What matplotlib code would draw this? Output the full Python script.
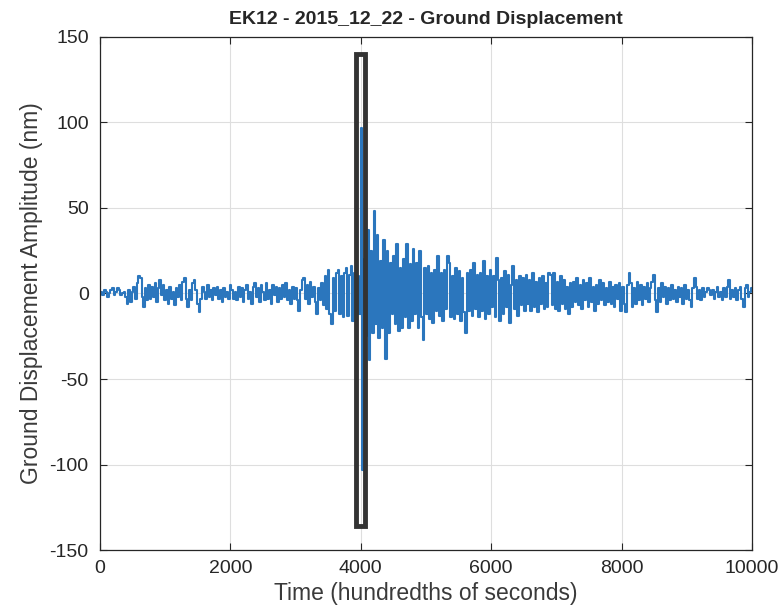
import numpy as np
import matplotlib
matplotlib.use("Agg")
import matplotlib.pyplot as plt
from matplotlib.patches import Rectangle

plt.rcParams['font.family'] = ['Liberation Sans', 'DejaVu Sans']
plt.rcParams['axes.unicode_minus'] = False

# Ground displacement trace (nm), one block per 1000 hundredths of a second
seg_0000 = [0, 1, -1, 2, 1, -2, 0, 2, 3, -1, 1, 3, 2, -1, 0, 1,
            -2, -6, 2, -5, 1, 4, -3, 6, 10, 9, -2, -8, 3, -4, 5, -3,
            4, -2, 6, -5, 3, 8, -1, 5]
seg_1000 = [-4, 2, -6, 4, -3, 1, -7, 3, -2, 5, -4, 7, 9, -3, -8, 2,
            -4, 6, 8, 2, -6, -11, -3, 4, 1, -3, 5, -2, 2, -4, 3, -1,
            4, -3, 2, -5, 3, -2, 1, -3]
seg_2000 = [5, 2, -3, 1, -4, 4, -2, 3, -5, 2, 5, -3, 1, -6, 4, 6,
            -2, 3, -5, 5, 1, -4, 6, -3, 2, -6, 5, -1, 4, -5, 3, -3,
            5, -2, 6, -4, 2, -6, 4, -3]
seg_3000 = [3, -4, -10, 2, 8, 9, -3, 5, -6, 7, -2, 4, -5, -12, 3, -4,
            6, -7, 10, -9, 14, -12, -18, 9, -10, 12, 14, -12, 10, -14, 12, 15,
            -13, 11, 16, -16, 12, -15, 10, -12]
seg_4000 = [97, -103, 20, -25, 37, -39, 25, -23, 48, -18, 34, -26, 19, -20, 31, -38,
            25, -23, 18, -12, 22, -18, 29, -22, 15, -20, 20, -14, 29, -20, 17, -16,
            26, -12, 18, -20, 25, -14, -27, 15]
seg_5000 = [-12, 16, -15, 12, -17, 14, -10, 22, -13, 12, -16, 14, -9, 22, 18, -14,
            10, -15, 15, -12, 13, -16, 9, -11, -23, 12, -10, 14, -13, 18, -9, 11,
            -14, 12, -10, 19, -15, 10, -12, 14]
seg_6000 = [-8, 10, -14, 21, 8, -16, 9, -12, 13, -8, 11, -17, 5, 16, -9, 8,
            -13, 10, -7, 9, -10, 11, -6, 8, -10, 12, -8, 7, -11, 9, -6, 10,
            -9, 6, -8, 12, 11, -7, 12, -9]
seg_7000 = [7, -10, 10, -6, 8, -9, 4, -12, 6, -8, 7, -5, 9, -7, 5, -9,
            8, -4, 6, -8, 9, -5, 4, -10, 5, -6, 8, -4, 6, -7, 3, -5,
            7, -6, 4, -8, 5, -3, 6, -10]
seg_8000 = [4, -6, -11, 5, 12, 6, -8, 3, -6, 7, -4, 5, -7, 4, -3, 6,
            -5, 3, 7, 11, -4, -11, 3, -5, 6, -2, 4, -6, 3, -4, 5, -3,
            2, -5, 4, -2, 3, -6, 5, -3]
seg_9000 = [2, -4, -8, 3, 9, 4, -3, 2, -4, 3, -2, 1, 3, 2, -1, 2,
            -3, 1, 4, -2, 1, -4, 3, -2, 4, 8, -3, 2, -2, 3, -4, 2,
            4, -3, -8, 3, 5, -2, 1, 3]

amplitude = np.concatenate([seg_0000, seg_1000, seg_2000, seg_3000, seg_4000,
                            seg_5000, seg_6000, seg_7000, seg_8000, seg_9000])
time = np.linspace(0, 10000, len(amplitude))

# Window around the P-wave arrival (time range, amplitude range)
pick_time = [3935, 4068]
pick_amp = [-136, 140]

x_ticks = [0, 2000, 4000, 6000, 8000, 10000]
y_ticks = [-150, -100, -50, 0, 50, 100, 150]

fig = plt.figure(figsize=(7.8, 6.14), dpi=100)
ax = fig.add_axes([0.128, 0.104, 0.836, 0.836])

ax.plot(time, amplitude, color='#2B76BD', linewidth=1.5,
        drawstyle='steps-mid', zorder=2)

ax.add_patch(Rectangle((pick_time[0], pick_amp[0]),
                       pick_time[1] - pick_time[0], pick_amp[1] - pick_amp[0],
                       fill=False, edgecolor='#333333', linewidth=3.5, zorder=3))

ax.set_xlim(0, 10000)
ax.set_ylim(-150, 150)
ax.set_xticks(x_ticks)
ax.set_yticks(y_ticks)

ax.grid(True, color='#dedede', linewidth=0.8)
ax.set_axisbelow(True)
ax.tick_params(direction='in', length=5, width=0.8, top=True, right=True,
               colors='#262626', labelsize=14, pad=7)
ax.tick_params(axis='y', pad=8)
for sp in ax.spines.values():
    sp.set_color('#262626')
    sp.set_linewidth(0.9)

ax.set_title('EK12 - 2015_12_22 - Ground Displacement', fontsize=14,
             fontweight='bold', color='#262626', pad=9)
ax.set_xlabel('Time (hundredths of seconds)', fontsize=16.5, color='#3a3a3a', labelpad=4)
ax.set_ylabel('Ground Displacement Amplitude (nm)', fontsize=16.5, color='#3a3a3a', labelpad=5)

fig.savefig('out.png', dpi=100, facecolor='white')
